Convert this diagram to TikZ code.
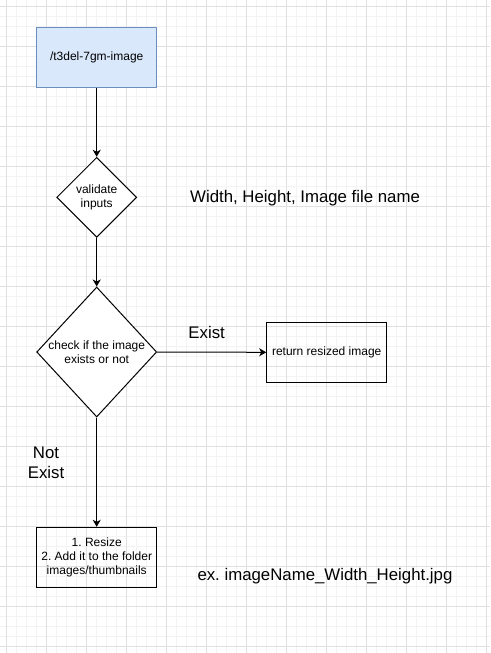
\documentclass[tikz,border=0pt]{standalone}
\usepackage{fontspec}
\setmainfont{Liberation Sans}
\usetikzlibrary{shapes.geometric,arrows.meta}
\definecolor{gridminor}{HTML}{F3F3F3}
\definecolor{gridmajor}{HTML}{E0E0E0}
\definecolor{boxfill}{HTML}{DAE8FC}
\definecolor{boxdraw}{HTML}{6C8EBF}
\frenchspacing
\tikzset{
  small/.style={font=\fontsize{12}{14.4}\selectfont, align=center},
  big/.style={font=\fontsize{16.8}{20.6}\selectfont, align=center, inner sep=0pt},
  procbox/.style={rectangle, draw=black, line width=1pt, minimum width=120pt, minimum height=60pt, inner sep=0pt, small},
  startbox/.style={procbox, draw=boxdraw, fill=boxfill},
  decision/.style={diamond, draw=black, line width=1pt, inner sep=0pt, fill=white},
  flow/.style={draw=black, line width=1pt, -{Stealth[length=7pt,width=8pt,inset=2pt]}},
}
\begin{document}
\begin{tikzpicture}[x=1pt,y=-1pt]
\useasboundingbox (0,0) rectangle (490,653);
\begin{scope}
\clip (0,0) rectangle (490,653);
\fill[white] (0,0) rectangle (490,653);
\foreach \i in {0,...,48} {
  \pgfmathsetmacro\p{6.67+10*\i}
  \draw[gridminor, line width=1pt] (\p,0) -- (\p,653);
}
\foreach \i in {0,...,65} {
  \pgfmathsetmacro\p{6.67+10*\i}
  \draw[gridminor, line width=1pt] (0,\p) -- (490,\p);
}
\foreach \i in {0,...,12} {
  \pgfmathsetmacro\p{6.67+40*\i}
  \draw[gridmajor, line width=1pt] (\p,0) -- (\p,653);
}
\foreach \i in {0,...,16} {
  \pgfmathsetmacro\p{6.67+40*\i}
  \draw[gridmajor, line width=1pt] (0,\p) -- (490,\p);
}
\end{scope}

\node[startbox] (top) at (96.7,57.3) {/t3del-7gm-image};
\node[decision, minimum width=80pt, minimum height=80pt,
      label={[small]center:validate\\inputs}] (val) at (96.7,197.3) {};
\node[decision, minimum width=120pt, minimum height=130pt,
      label={[small]center:check if the image\\exists or not}] (chk) at (96.7,352) {};
\node[procbox] (ret) at (326.7,352.3) {return resized image};
\node[procbox] (res) at (96.7,557.3) {1. Resize\\2. Add it to the folder\\images/thumbnails};

\draw[flow] (top) -- (val);
\draw[flow] (val) -- (chk);
\draw[flow] (chk.east) -- (ret.west);
\draw[flow] (chk.south) -- (res.north);

\node[big, anchor=base west] (inputs) at (190,202.7) {Width, Height, Image file name};
\node[big, anchor=base] (exist) at (206.7,338.3) {Exist};
\node[big, anchor=center] (notexist) at (46,462.8) {Not\\Exist};
\node[big, anchor=base west] (example) at (197.3,580) {ex. imageName\_Width\_Height.jpg};
\end{tikzpicture}
\end{document}
